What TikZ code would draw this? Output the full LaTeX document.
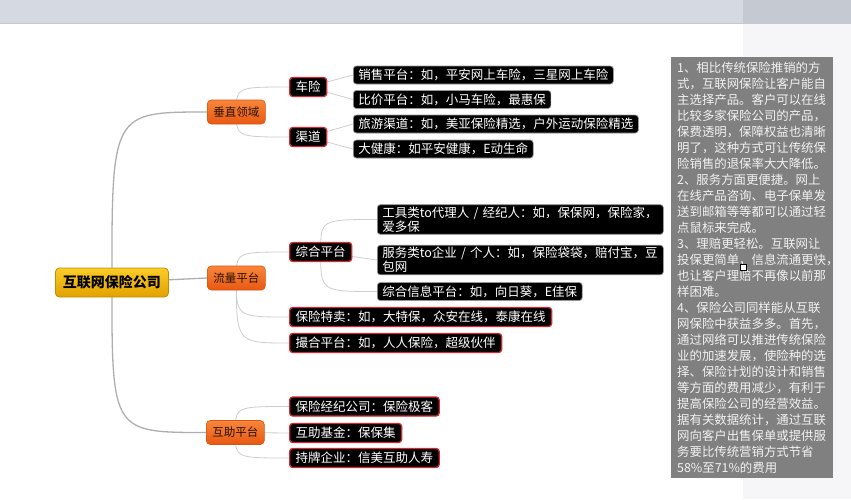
\documentclass[tikz,border=0pt]{standalone}
\usepackage{fontspec}
\usepackage{tikz}
\usepackage{xcolor}
\setmainfont{Noto Sans CJK SC}
\usetikzlibrary{positioning,backgrounds}
\definecolor{bandblue}{RGB}{213,217,225}
\definecolor{bandedge}{RGB}{196,200,207}
\definecolor{bandright}{RGB}{197,202,210}
\definecolor{paleside}{RGB}{246,246,249}
\definecolor{goldtop}{RGB}{250,204,40}
\definecolor{goldbot}{RGB}{226,162,0}
\definecolor{goldline}{RGB}{196,140,0}
\definecolor{orangetop}{RGB}{248,134,58}
\definecolor{orangebot}{RGB}{232,88,18}
\definecolor{orangeline}{RGB}{214,86,20}
\definecolor{glowred}{RGB}{212,40,48}
\definecolor{leafline}{RGB}{150,150,150}
\definecolor{linkgray}{RGB}{205,205,205}
\definecolor{notegray}{RGB}{128,128,128}

\begin{document}
\begin{tikzpicture}[
    x=1pt, y=-1pt,
    every node/.style={inner sep=0pt},
    rootnode/.style={rectangle, draw=goldline, line width=0.8pt, top color=goldtop, bottom color=goldbot, rounded corners=4pt, minimum width=113pt, minimum height=29pt, font=\fontsize{14pt}{16pt}\selectfont\bfseries, text=black, anchor=west},
    areanode/.style={rectangle, draw=orangeline, line width=0.6pt, top color=orangetop, bottom color=orangebot, rounded corners=4pt, minimum width=58pt, minimum height=24pt, font=\fontsize{11.5pt}{13pt}\selectfont, text=black!85!orange, anchor=west},
    catnode/.style={rectangle, draw=glowred, line width=1.3pt, fill=black, rounded corners=3pt, inner xsep=6pt, minimum height=19pt, font=\fontsize{12.5pt}{14pt}\selectfont, text=white, anchor=west},
    leafnode/.style={rectangle, draw=leafline, line width=0.7pt, fill=black, rounded corners=3pt, inner xsep=5pt, inner ysep=2pt, minimum height=18pt, font=\fontsize{12.5pt}{14pt}\selectfont, text=white, anchor=west},
    widenode/.style={leafnode, text width=276pt, align=left},
    notebox/.style={rectangle, fill=notegray, inner xsep=6pt, minimum height=421pt, text width=150pt, align=left, font=\fontsize{12.4pt}{16pt}\selectfont, text=white!95!black, anchor=north west},
    marker/.style={rectangle, draw=black, fill=white, line width=0.8pt, minimum size=6pt},
    mainlink/.style={draw=linkgray!85!black, line width=1.3pt},
    link/.style={draw=linkgray, line width=0.8pt}
]

% Root and areas
\node[rootnode] (root) at (55,282.5) {互联网保险公司};
\node[areanode] (ver) at (207,112) {垂直领域};
\node[areanode] (flow) at (207,278) {流量平台};
\node[areanode] (mutual) at (206,432.5) {互助平台};

% Vertical domains
\node[catnode] (car) at (289,87) {车险};
\node[catnode] (chan) at (289,137) {渠道};
\node[leafnode] (sale) at (353,75) {销售平台：如，平安网上车险，三星网上车险};
\node[leafnode] (price) at (353,99.5) {比价平台：如，小马车险，最惠保};
\node[leafnode] (travel) at (353,124) {旅游渠道：如，美亚保险精选，户外运动保险精选};
\node[leafnode] (health) at (353,149) {大健康：如平安健康，E动生命};

% Traffic platforms
\node[catnode] (comp) at (289,252) {综合平台};
\node[widenode] (tool) at (377,219.5) {工具类to代理人 / 经纪人：如，保保网，保险家，\\爱多保};
\node[widenode] (service) at (377,260) {服务类to企业 / 个人：如，保险袋袋，赔付宝，豆\\包网};
\node[leafnode] (info) at (377,291.5) {综合信息平台：如，向日葵，E佳保};
\node[catnode] (special) at (289,317) {保险特卖：如，大特保，众安在线，泰康在线};
\node[catnode] (match) at (289,343) {撮合平台：如，人人保险，超级伙伴};

% Mutual aid
\node[catnode] (broker) at (289,406.5) {保险经纪公司：保险极客};
\node[catnode] (fund) at (289,433) {互助基金：保保集};
\node[catnode] (licensed) at (289,458) {持牌企业：信美互助人寿};

% Notes
\node[notebox] (notes) at (671,57) {1、相比传统保险推销的方\\式，互联网保险让客户能自\\主选择产品。客户可以在线\\比较多家保险公司的产品，\\保费透明，保障权益也清晰\\明了，这种方式可让传统保\\险销售的退保率大大降低。\\2、服务方面更便捷。网上\\在线产品咨询、电子保单发\\送到邮箱等等都可以通过轻\\点鼠标来完成。\\3、理赔更轻松。互联网让\\投保更简单，信息流通更快，\\也让客户理赔不再像以前那\\样困难。\\4、保险公司同样能从互联\\网保险中获益多多。首先，\\通过网络可以推进传统保险\\业的加速发展，使险种的选\\择、保险计划的设计和销售\\等方面的费用减少，有利于\\提高保险公司的经营效益。\\据有关数据统计，通过互联\\网向客户出售保单或提供服\\务要比传统营销方式节省\\58\%至71\%的费用};
\node[marker] (mark) at (743.5,267.5) {};

\begin{scope}[on background layer]
% page band
\fill[bandblue] (0,0) rectangle (851,24);
\fill[bandright] (743,0) rectangle (851,24);
\fill[bandedge] (0,22.5) rectangle (851,24);
\fill[paleside] (743,24) rectangle (851,499);

% root links
\draw[mainlink] (root.center) .. controls (root.center |- ver.west) .. (ver.west);
\draw[mainlink] (root.center) -- (flow.west);
\draw[mainlink] (root.center) .. controls (root.center |- mutual.west) .. (mutual.west);

% area links
\draw[link] (ver.center) .. controls (ver.center |- car.west) .. (car.west);
\draw[link] (ver.center) .. controls (ver.center |- chan.west) .. (chan.west);
\draw[link] (flow.center) .. controls (flow.center |- comp.west) .. (comp.west);
\draw[link] (flow.center) .. controls (flow.center |- special.west) .. (special.west);
\draw[link] (flow.center) .. controls (flow.center |- match.west) .. (match.west);
\draw[link] (mutual.center) .. controls (mutual.center |- broker.west) .. (broker.west);
\draw[link] (mutual.center) -- (fund.west);
\draw[link] (mutual.center) .. controls (mutual.center |- licensed.west) .. (licensed.west);

% leaf links
\draw[link] (car.center) -- (sale.west);
\draw[link] (car.center) -- (price.west);
\draw[link] (chan.center) -- (travel.west);
\draw[link] (chan.center) -- (health.west);
\draw[link] (comp.center) .. controls (comp.center |- tool.west) .. (tool.west);
\draw[link] (comp.center) -- (service.west);
\draw[link] (comp.center) .. controls (comp.center |- info.west) .. (info.west);
\end{scope}

\useasboundingbox (0,0) rectangle (851,499);
\end{tikzpicture}
\end{document}
